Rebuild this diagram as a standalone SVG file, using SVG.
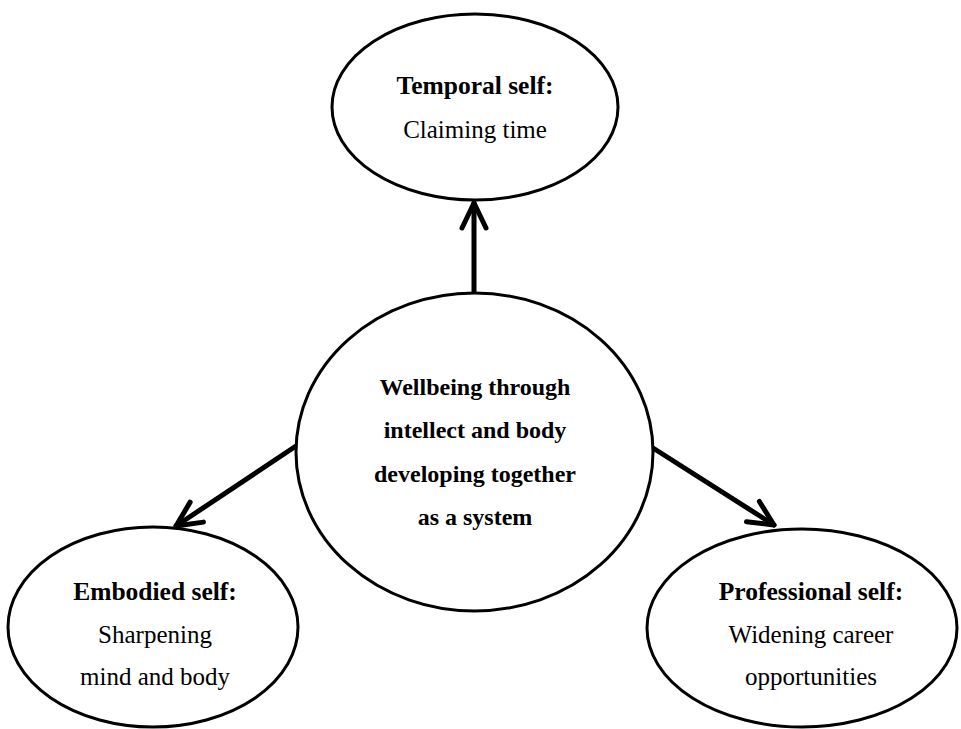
<svg xmlns="http://www.w3.org/2000/svg" width="961" height="729" viewBox="0 0 961 729">
<style>
.node{fill:#fff;stroke:#000;stroke-width:3}
.conn{stroke:#000;stroke-width:5;fill:none;stroke-linecap:round}
.t{font-family:"Liberation Serif","Times New Roman",serif;font-size:25px;fill:#000;text-anchor:middle}
.b{font-weight:bold;font-size:25.5px}
.c{font-family:"Liberation Serif","Times New Roman",serif;font-size:24px;font-weight:bold;fill:#000;text-anchor:middle}
</style>
<defs>
<marker id="ah" markerUnits="userSpaceOnUse" orient="auto" refX="0" refY="0" markerWidth="60" markerHeight="60" overflow="visible">
<path d="M-25,-12 L0,0 L-25,12" fill="none" stroke="#000" stroke-width="5" stroke-linecap="round" stroke-linejoin="round"/>
</marker>
</defs>
<g id="connectors">
<line class="conn" x1="474" y1="293" x2="474" y2="203" marker-end="url(#ah)"/>
<line class="conn" x1="296" y1="446" x2="176" y2="526" marker-end="url(#ah)"/>
<line class="conn" x1="653" y1="448" x2="774" y2="525" marker-end="url(#ah)"/>
</g>
<g id="temporal">
<ellipse class="node" cx="475" cy="107" rx="143" ry="93"/>
<text class="t b" x="475" y="94">Temporal self:</text>
<text class="t" x="475" y="138">Claiming time</text>
</g>
<g id="center">
<ellipse class="node" cx="474.5" cy="452" rx="178.5" ry="159"/>
<text class="c" x="475" y="395">Wellbeing through</text>
<text class="c" x="475" y="438">intellect and body</text>
<text class="c" x="475" y="482">developing together</text>
<text class="c" x="475" y="525">as a system</text>
</g>
<g id="embodied">
<ellipse class="node" cx="153" cy="627" rx="145" ry="100"/>
<text class="t b" x="155" y="600">Embodied self:</text>
<text class="t" x="155" y="643">Sharpening</text>
<text class="t" x="155" y="685">mind and body</text>
</g>
<g id="professional">
<ellipse class="node" cx="802" cy="628" rx="155" ry="99"/>
<text class="t b" x="811" y="600">Professional self:</text>
<text class="t" x="811" y="643">Widening career</text>
<text class="t" x="811" y="685">opportunities</text>
</g>
</svg>
